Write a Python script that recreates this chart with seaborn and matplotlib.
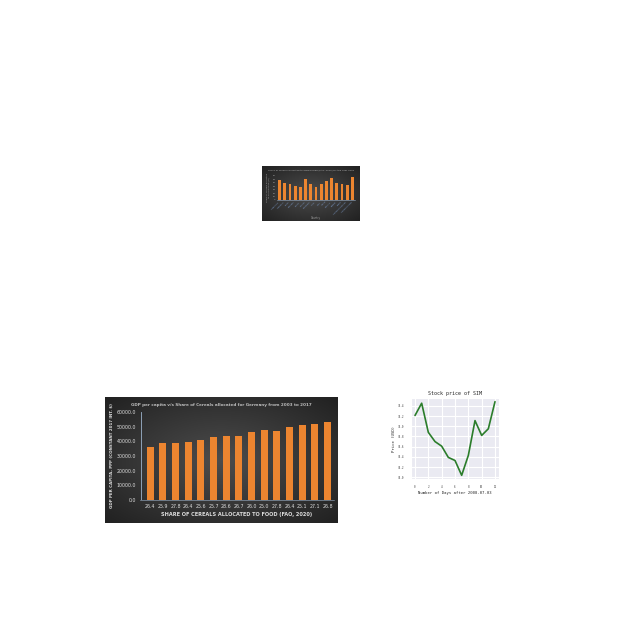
import numpy as np
import pandas as pd
import seaborn as sns
import matplotlib.pyplot as plt

# GDP per capita vs share of cereals (big dark chart)
years = list(range(2003, 2018))
cereal_share = ["26.4", "25.9", "27.8", "26.4", "25.6", "25.7", "28.6", "26.7",
                "26.0", "25.0", "27.8", "26.4", "25.1", "27.1", "26.8"]
gdp = [36400, 38600, 39100, 39500, 40900, 43000, 43400, 43600,
       46100, 47700, 47000, 49800, 51100, 52000, 53200]

# small dark chart
countries = ["Argentina", "Australia", "Brazil", "Canada", "China", "France",
             "Germany", "India", "Italy", "Japan", "Mexico", "Russia",
             "Spain", "United Kingdom", "United States"]
feed_share = [57, 50, 47, 41, 37, 60, 48, 38, 47, 54, 65, 49, 48, 43, 68]

# stock price line
days = list(range(13))
price = [31.21, 31.45, 30.88, 30.70, 30.61, 30.39, 30.33, 30.04,
         30.43, 31.11, 30.82, 30.95, 31.48]

fig = plt.figure(figsize=(6.4, 6.4), dpi=100)
fig.patch.set_facecolor("white")

orange = "#ec8530"


def dark_panel(rect):
    p = fig.add_axes(rect)
    yy, xx = np.mgrid[-1:1:100j, -1:1:100j]
    r = np.sqrt(xx ** 2 + yy ** 2)
    v = np.clip(0.30 - 0.12 * r, 0.08, 0.3)
    img = np.dstack([v, v, v])
    p.imshow(img, aspect="auto", extent=[0, 1, 0, 1], origin="lower")
    p.set_xlim(0, 1)
    p.set_ylim(0, 1)
    p.axis("off")
    return p


def style_dark(ax):
    ax.set_facecolor("none")
    for s in ["top", "right", "left"]:
        ax.spines[s].set_visible(False)
    ax.spines["bottom"].set_color("#9db3cc")
    ax.spines["bottom"].set_linewidth(0.4)


# ---- big chart ----
panel1 = dark_panel([105 / 640, 117 / 640, 233 / 640, 126 / 640])
ax1 = fig.add_axes([140 / 640, 140 / 640, 194 / 640, 88 / 640])
df1 = pd.DataFrame({"Year": years, "GDP": gdp})
sns.barplot(x="Year", y="GDP", data=df1, color=orange, ax=ax1, width=0.55,
            saturation=1)
style_dark(ax1)
ax1.axvline(-0.75, color="#9db3cc", lw=0.6)
ax1.set_xlim(-0.8, len(years) - 0.5)
ax1.set_ylim(0, 60000)
ax1.set_yticks(range(0, 60001, 10000))
ax1.set_yticklabels([f"{v:.1f}" for v in range(0, 60001, 10000)])
ax1.set_xticks(range(len(years)))
ax1.set_xticklabels(cereal_share)
ax1.tick_params(colors="#dddddd", labelsize=3.4, length=0, pad=3)
ax1.set_xlabel("SHARE OF CEREALS ALLOCATED TO FOOD (FAO, 2020)",
               color="#dddddd", fontsize=3.6, fontweight="bold", labelpad=2)
ax1.set_ylabel("GDP PER CAPITA, PPP (CONSTANT 2017 INT. $)",
               color="#dddddd", fontsize=2.9, fontweight="bold", labelpad=2)
panel1.text(0.5, 0.94, "GDP per capita v/s Share of Cereals allocated for Germany from 2003 to 2017",
            color="#bbbbbb", fontsize=3.0, fontweight="bold", ha="center", va="center")

# ---- small chart ----
panel2 = dark_panel([262 / 640, 419 / 640, 98 / 640, 55 / 640])
ax2 = fig.add_axes([277 / 640, 440 / 640, 78 / 640, 24 / 640])
df2 = pd.DataFrame({"Country": countries, "Share": feed_share})
sns.barplot(x="Country", y="Share", data=df2, color=orange, ax=ax2, width=0.55,
            saturation=1)
style_dark(ax2)
ax2.set_ylim(0, 70)
ax2.set_yticks(range(0, 71, 10))
ax2.tick_params(colors="#aaaaaa", labelsize=1.6, length=0, pad=1)
plt.setp(ax2.get_xticklabels(), rotation=45, ha="right", color="#7f9fd0")
ax2.set_xlabel("Country", color="#aaaaaa", fontsize=1.8, labelpad=1)
ax2.set_ylabel("Share of cereals allocated\nto animal feed (%)", color="#aaaaaa",
               fontsize=1.6, labelpad=2)
panel2.text(0.5, 0.92, "Share of cereals allocated to animal feed (FAO, 2020) for the year 2000",
            color="#bbbbbb", fontsize=1.7, ha="center", va="center")

# ---- stock price chart ----
with sns.axes_style("darkgrid"):
    ax3 = fig.add_axes([411 / 640, 161 / 640, 88 / 640, 81 / 640])
    sns.lineplot(x=days, y=price, color="#2b7d2b", lw=1.2, ax=ax3)
ax3.set_xticks(range(0, 13, 2))
ax3.set_yticks(np.arange(30.0, 31.41, 0.2))
ax3.yaxis.set_major_formatter(plt.FormatStrFormatter("%.1f"))
ax3.tick_params(labelsize=2.0, pad=1, colors="#444444")
ax3.set_title("Stock price of SIM", fontsize=3.6, family="DejaVu Sans Mono", pad=2)
ax3.set_xlabel("Number of Days after 2008-07-03", fontsize=2.8,
               family="DejaVu Sans Mono", labelpad=1.5)
ax3.set_ylabel("Price (USD)", fontsize=2.8, family="DejaVu Sans Mono", labelpad=1.5)
for lab in ax3.get_xticklabels() + ax3.get_yticklabels():
    lab.set_family("DejaVu Sans Mono")

fig.savefig("out.png", dpi=100, facecolor="white")
